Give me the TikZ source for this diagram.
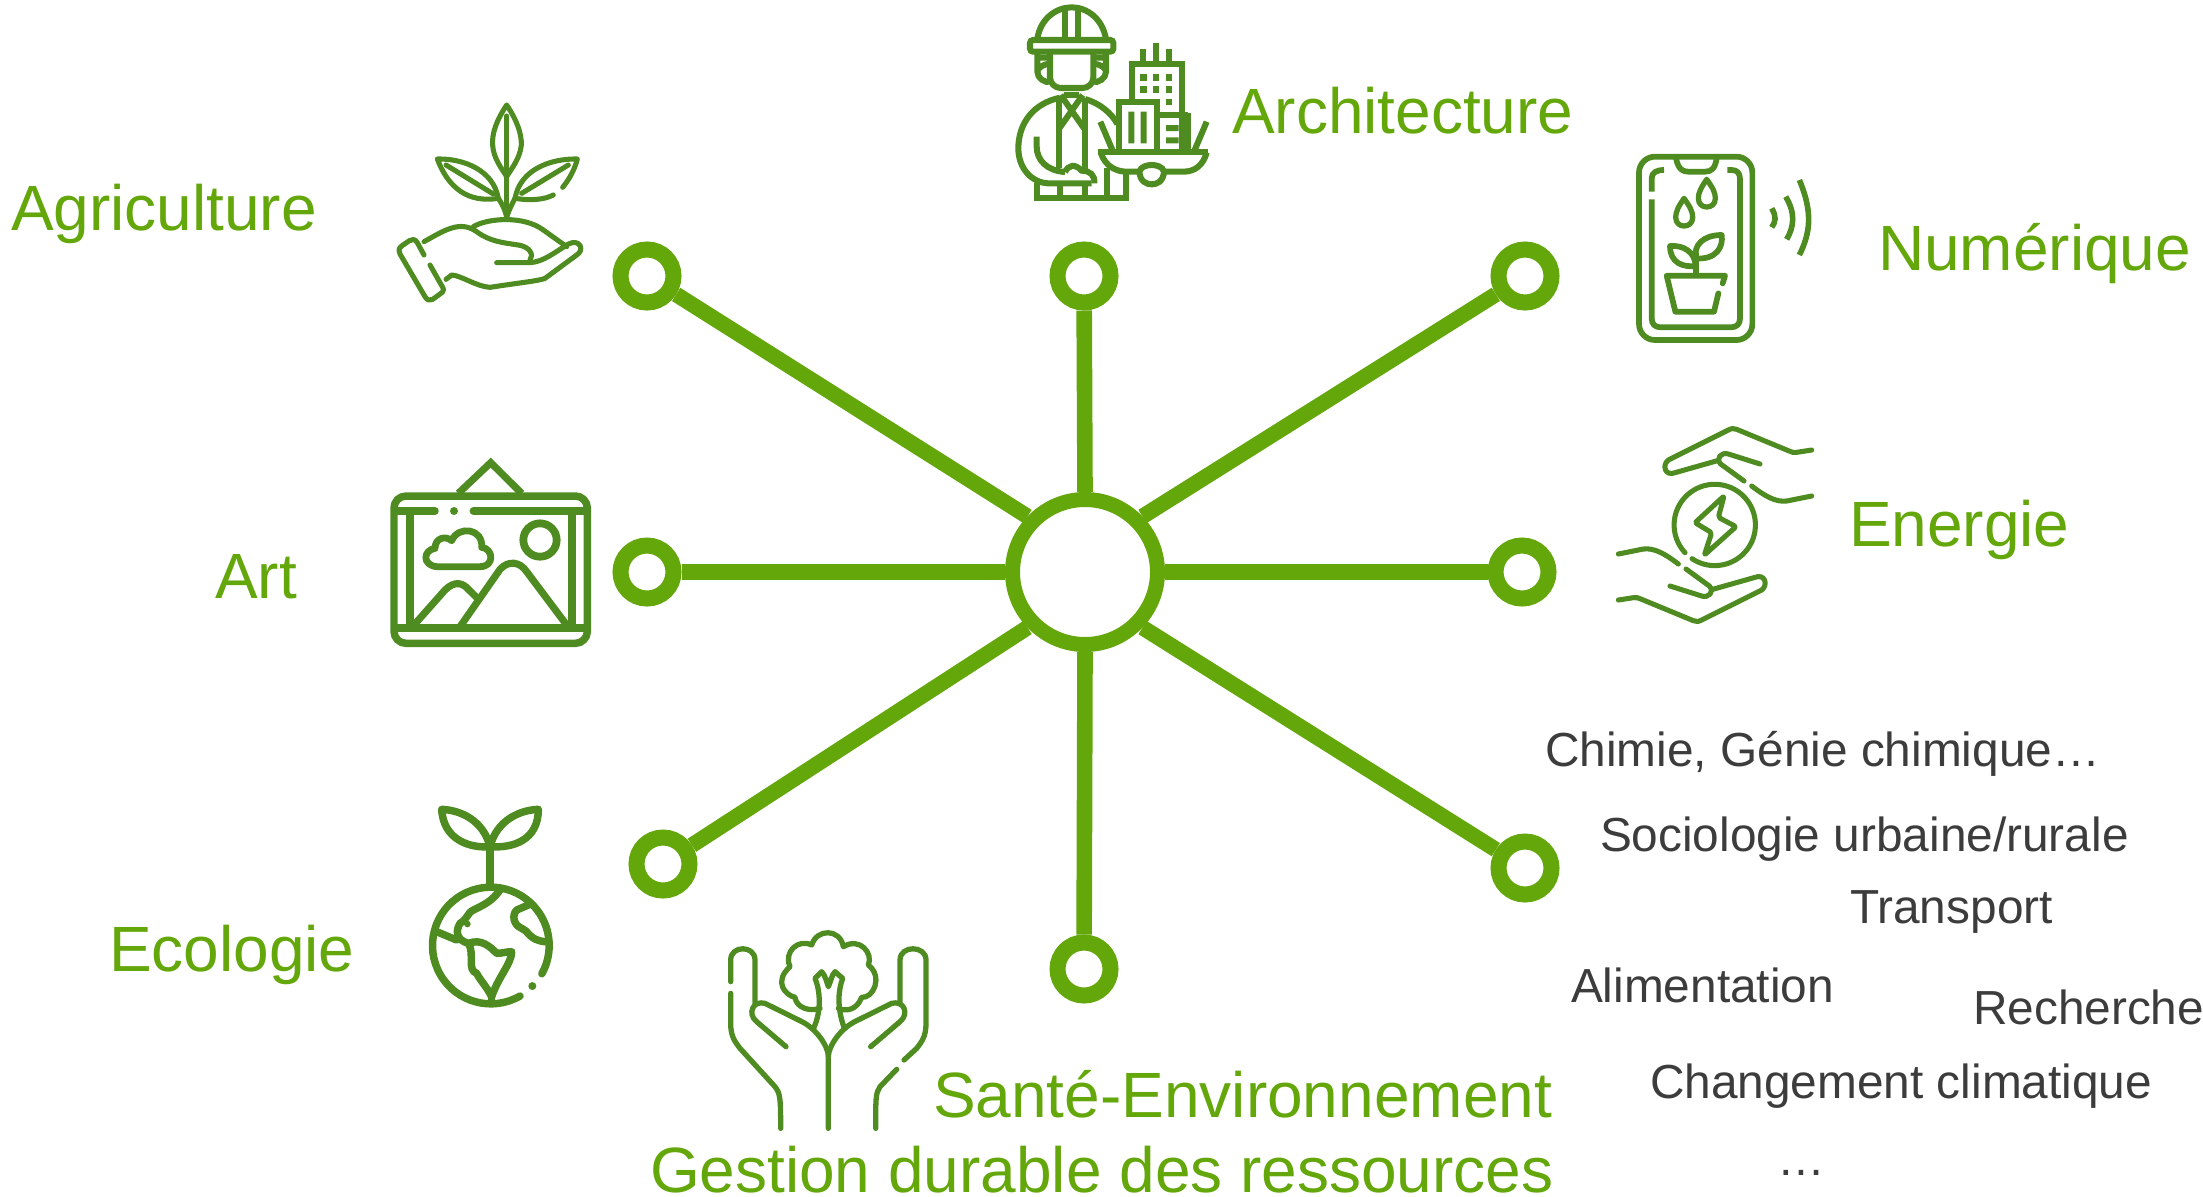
\documentclass[tikz,border=0pt]{standalone}
\usepackage{fontspec}
\setmainfont{Liberation Sans}
\definecolor{linegreen}{HTML}{64A70B}
\definecolor{icongreen}{HTML}{4E8C21}
\definecolor{darktext}{HTML}{3C3C3C}
\tikzset{
  zm/.style={x=0.166667pt,y=-0.166667pt},
  ic/.style={draw=icongreen,line width=#1*1.1,line cap=round,line join=round,fill=none},
  ic/.default=2.4pt,
  icb/.style={draw=icongreen,line width=#1*1.08,line cap=butt,line join=miter,fill=none},
  icb/.default=2.8pt,
  dotf/.style={fill=icongreen,draw=none},
  satnode/.style={circle,draw=linegreen,line width=8pt,minimum size=26.5pt,inner sep=0pt,fill=white},
  hubnode/.style={circle,draw=linegreen,line width=7.5pt,minimum size=72.5pt,inner sep=0pt,fill=white},
  link/.style={draw=linegreen,line width=7.8pt},
  lab/.style={anchor=base west,inner sep=0pt,outer sep=0pt,text=linegreen,font=\fontsize{32pt}{36pt}\selectfont},
  word/.style={anchor=base west,inner sep=0pt,outer sep=0pt,text=darktext,font=\fontsize{23.9pt}{28pt}\selectfont},
}
\begin{document}
\begin{tikzpicture}[x=0.5pt,y=-0.5pt]
\useasboundingbox (0,0) rectangle (2203,1196);

% hub and spokes
\node[hubnode] (hub) at (1085,572) {};
\node[satnode] (s1) at (647,276) {};
\node[satnode] (s2) at (1084,276) {};
\node[satnode] (s3) at (1525,276) {};
\node[satnode] (s4) at (647,572) {};
\node[satnode] (s5) at (1522,572) {};
\node[satnode] (s6) at (663,864) {};
\node[satnode] (s7) at (1084,969) {};
\node[satnode] (s8) at (1525,868) {};
\draw[link] (hub.136) -- (s1);
\draw[link] (hub.90) -- (s2);
\draw[link] (hub.44) -- (s3);
\draw[link] (hub) -- (s4);
\draw[link] (hub) -- (s5);
\draw[link] (hub.224) -- (s6);
\draw[link] (hub.270) -- (s7);
\draw[link] (hub.316) -- (s8);

% green labels
\node[lab] (lAgri) at (11,230) {Agriculture};
\node[lab] (lArch) at (1232,133) {Architecture};
\node[lab] (lNum) at (1878,270) {Numérique};
\node[lab] (lEne) at (1849,546) {Energie};
\node[lab] (lArt) at (215,598) {Art};
\node[lab] (lEco) at (109,971) {Ecologie};
\node[lab] (lSan) at (933,1117) {Santé-Environnement};
\node[lab] (lGes) at (650,1192) {Gestion durable des ressources};

% dark words
\node[word] (w1) at (1545,766) {Chimie, Génie chimique…};
\node[word] (w2) at (1600,851) {Sociologie urbaine/rurale};
\node[word] (w3) at (1850,923) {Transport};
\node[word] (w4) at (1571,1002) {Alimentation};
\node[word] (w5) at (1973,1024) {Recherche};
\node[word] (w6) at (1650,1098) {Changement climatique};
\node[word] (w7) at (1777,1175) {…};

% architect
\begin{scope}[shift={(980,0)},zm]
\path[icb] (172,118) .. controls (180,55) and (230,22) .. (275,22) .. controls (320,22) and (368,55) .. (378,118);
\draw[icb,rounded corners=1.5pt] (150,120) rectangle (400,155);
\path[icb] (255,28) -- (255,120) (295,28) -- (295,120);
\path[icb] (210,155) -- (210,232) .. controls (210,250) and (225,264) .. (242,264) -- (308,264) .. controls (325,264) and (340,250) .. (340,232) -- (340,155);
\path[icb] (172,155) -- (172,215) .. controls (172,235) and (195,250) .. (212,245) (172,173) -- (210,173) (212,192) .. controls (190,190) and (172,205) .. (172,215);
\path[icb] (378,155) -- (378,215) .. controls (378,235) and (355,250) .. (338,245) (378,173) -- (340,173) (338,192) .. controls (360,190) and (378,205) .. (378,215);
\path[icb] (240,293) .. controls (160,310) and (115,370) .. (115,445) .. controls (115,505) and (155,548) .. (205,550) -- (335,550);
\path[icb] (170,410) -- (170,440) .. controls (170,480) and (200,512) .. (255,516);
\path[icb] (237,295) -- (237,505) (315,295) -- (315,512);
\path[icb] (242,285) -- (312,385) (308,285) -- (238,385);
\path[icb] (252,285) -- (298,285);
\path[icb] (255,516) .. controls (265,495) and (285,490) .. (305,512) .. controls (330,512) and (345,525) .. (343,550);
\path[icb] (170,550) -- (170,595) -- (437,595) -- (437,515);
\path[icb] (240,550) -- (240,595) (315,550) -- (315,595) (380,505) -- (380,595);
\path[icb] (315,297) .. controls (360,310) and (395,340) .. (412,372);
\path[icb] (490,147) -- (490,190) (528,130) -- (528,190) (567,147) -- (567,190);
\path[icb] (455,305) -- (455,192) -- (605,192) -- (605,345);
\foreach \wx/\wy in {490/232,528/232,567/232,490/268,528/268,567/268,567/306}
  \fill[dotf] (\wx-10,\wy-10) rectangle (\wx+10,\wy+10);
\path[icb] (417,450) -- (417,307) -- (532,307) -- (532,450);
\fill[dotf] (445,335) rectangle (463,430) (482,335) rectangle (500,430);
\path[icb] (532,345) -- (625,345) (625,338) -- (625,450) (605,345) -- (605,450);
\fill[dotf] (558,375) rectangle (596,393) (558,412) rectangle (596,430);
\path[icb] (355,457) -- (685,457);
\path[icb] (362,457) .. controls (375,500) and (410,515) .. (440,515) -- (478,515) (552,515) -- (610,515) .. controls (645,515) and (670,495) .. (680,457);
\path[icb] (478,515) .. controls (480,545) and (500,553) .. (515,553) .. controls (530,553) and (550,545) .. (552,515) .. controls (548,500) and (530,495) .. (515,495) .. controls (500,495) and (482,500) .. (478,515);
\path[icb] (361,365) -- (397,450) (680,365) -- (644,450);
\end{scope}

% plant in hand
\begin{scope}[shift={(380,90)},zm]
\path[ic=2.3pt] (380,45) .. controls (350,90) and (335,130) .. (338,165) .. controls (340,205) and (365,235) .. (380,260) .. controls (395,235) and (420,205) .. (424,165) .. controls (425,130) and (410,90) .. (380,45) -- cycle;
\path[ic=2.3pt] (380,78) -- (380,380);
\path[ic=2.3pt] (172,207) .. controls (250,205) and (340,240) .. (355,325) .. controls (290,335) and (215,320) .. (172,207) -- cycle;
\path[ic=2.3pt] (198,225) -- (340,312);
\path[ic=2.3pt] (355,325) .. controls (372,350) and (378,370) .. (380,382) .. controls (385,365) and (392,350) .. (405,325);
\path[ic=2.3pt] (548,292) .. controls (570,265) and (585,235) .. (592,207) .. controls (510,205) and (420,240) .. (405,325) .. controls (450,332) and (490,330) .. (520,315);
\path[ic=2.3pt] (565,225) -- (425,310);
\path[ic=2.3pt] (280,410) .. controls (320,385) and (430,375) .. (490,420) -- (560,470);
\path[ic=2.3pt] (132,495) -- (112,458) .. controls (105,445) and (95,448) .. (88,452) -- (65,468) .. controls (55,475) and (55,485) .. (60,492) -- (135,620) .. controls (142,632) and (150,632) .. (158,628) -- (180,612) .. controls (192,605) and (192,598) .. (187,590) -- (150,525);
\path[ic=2.3pt] (132,455) .. controls (195,420) and (240,390) .. (290,425) .. controls (330,455) and (370,458) .. (415,465) .. controls (450,470) and (462,495) .. (450,510);
\path[ic=2.3pt] (350,518) -- (450,518) .. controls (490,515) and (520,490) .. (565,462) .. controls (600,445) and (615,480) .. (590,495) -- (495,565) .. controls (480,572) and (420,578) .. (330,592) .. controls (290,590) and (240,555) .. (215,555) -- (198,568);
\end{scope}

% phone
\begin{scope}[shift={(1610,140)},zm]
\draw[ic=2.6pt,rounded corners=8pt] (87,50) rectangle (427,600);
\path[ic=2.6pt] (198,55) .. controls (205,90) and (220,95) .. (235,95) -- (285,95) .. controls (305,95) and (315,85) .. (320,55);
\path[ic=2.6pt,line cap=butt] (125,155) -- (125,115) .. controls (125,97) and (140,90) .. (162,90);
\path[ic=2.6pt,line cap=butt] (352,90) -- (365,90) .. controls (382,90) and (390,100) .. (390,118) -- (390,535) .. controls (390,552) and (380,562) .. (362,562) -- (152,562) .. controls (135,562) and (125,552) .. (125,535) -- (125,178);
\path[ic=2.4pt] (222,175) .. controls (205,200) and (197,215) .. (197,232) .. controls (197,250) and (210,258) .. (222,258) .. controls (235,258) and (248,250) .. (248,232) .. controls (248,215) and (240,200) .. (222,175) -- cycle;
\path[ic=2.4pt] (290,118) .. controls (273,143) and (265,158) .. (265,175) .. controls (265,193) and (278,201) .. (290,201) .. controls (303,201) and (316,193) .. (316,175) .. controls (316,158) and (308,143) .. (290,118) -- cycle;
\path[ic=2.6pt] (257,340) -- (257,405);
\path[ic=2.6pt] (180,318) .. controls (180,370) and (220,382) .. (257,378) .. controls (255,335) and (220,315) .. (180,318) -- cycle;
\path[ic=2.6pt] (335,285) .. controls (280,285) and (250,315) .. (257,355) .. controls (320,360) and (340,320) .. (335,285) -- cycle;
\path[ic=2.6pt] (338,430) -- (345,407) -- (170,407) -- (196,515) -- (312,515) -- (325,460);
\path[icb=2.6pt] (485,205) .. controls (500,230) and (497,245) .. (485,262);
\path[icb=2.6pt] (527,170) .. controls (557,220) and (552,260) .. (530,298);
\path[icb=2.6pt] (568,120) .. controls (610,220) and (600,280) .. (568,345);
\end{scope}

% energy
\begin{scope}[shift={(1600,410)},zm]
\foreach \turn in {0,180}{
\begin{scope}[rotate around={\turn:(345,345)}]
\path[ic=2.3pt] (635,120) -- (590,127) .. controls (580,128) and (575,127) .. (565,122) -- (410,58) .. controls (400,54) and (395,55) .. (385,60) -- (205,150) .. controls (185,165) and (195,200) .. (225,188) -- (352,152);
\path[ic=2.3pt] (480,162) -- (385,132) .. controls (365,125) and (345,145) .. (362,162) -- (432,213);
\path[ic=2.3pt] (455,228) .. controls (510,270) and (540,280) .. (575,270) -- (635,258);
\end{scope}}
\path[ic=2.3pt] (255,428) arc[start angle=137,end angle=484,radius=122];
\path[ic=2.3pt,rounded corners=1pt] (372,258) -- (285,338) -- (335,368) -- (313,435) -- (408,350) -- (355,322) -- cycle;
\end{scope}

% picture frame
\begin{scope}[shift={(380,450)},zm]
\draw[ic=3.4pt,rounded corners=6pt] (42,138) rectangle (622,580);
\path[ic=3.4pt] (45,183) -- (165,183) (280,183) -- (620,183);
\fill[dotf] (222,183) circle[radius=12];
\path[icb=3.6pt] (42,533) -- (622,533);
\path[icb=3.6pt] (90,183) -- (90,533) (575,183) -- (575,533);
\path[icb=3.3pt] (235,130) -- (332,38) -- (425,130);
\draw[icb=3.6pt] (480,270) circle[radius=50];
\path[ic=3.1pt] (170,350) .. controls (125,345) and (130,300) .. (165,295) .. controls (165,265) and (195,255) .. (215,272) .. controls (235,225) and (310,235) .. (305,292) .. controls (340,295) and (345,350) .. (300,350) -- cycle;
\path[icb=3.3pt] (102,525) -- (195,420) .. controls (225,390) and (250,400) .. (265,418) -- (300,452);
\path[icb=3.3pt] (240,530) -- (360,358) .. controls (385,330) and (420,335) .. (440,365) -- (560,525);
\end{scope}

% globe
\begin{scope}[shift={(410,790)},zm]
\path[ic=3.4pt,line cap=butt] (95,58) .. controls (150,60) and (220,90) .. (240,170) .. controls (180,175) and (100,150) .. (95,58) -- cycle;
\path[ic=3.4pt,line cap=butt] (385,58) .. controls (330,60) and (260,90) .. (240,170) .. controls (310,175) and (385,150) .. (385,58) -- cycle;
\path[ic=3.4pt] (240,170) -- (240,285);
\path[ic=3.4pt] (330,618) arc[start angle=60,end angle=389,radius=175];
\fill[dotf] (367,588) circle[radius=12];
\fill[dotf] (172,402) circle[radius=10];
\path[ic=3.4pt] (270,300) .. controls (245,335) and (220,345) .. (190,360) .. controls (170,370) and (175,385) .. (150,400) .. controls (135,425) and (140,450) .. (175,460) .. controls (215,445) and (240,470) .. (260,490) .. controls (275,490) and (290,485) .. (305,485) .. controls (305,520) and (265,560) .. (245,620) .. controls (230,590) and (210,570) .. (200,550) .. controls (170,540) and (195,490) .. (175,460);
\path[ic=3.4pt] (80,425) -- (140,450);
\path[ic=3.4pt] (355,345) -- (320,360) .. controls (305,375) and (310,405) .. (335,415) .. controls (355,420) and (355,450) .. (405,455);
\path[ic=3.4pt] (245,620) -- (245,640);
\end{scope}

% tree in hands
\begin{scope}[shift={(710,910)},zm]
\path[ic=2.4pt] (62,215) -- (62,150) .. controls (62,105) and (135,105) .. (135,150) -- (135,280);
\path[ic=2.4pt] (62,250) -- (62,340) .. controls (62,380) and (75,395) .. (90,415) -- (195,530) .. controls (210,550) and (212,560) .. (212,655);
\path[ic=2.4pt] (228,410) -- (140,335) .. controls (110,310) and (130,270) .. (165,280) -- (270,332) .. controls (320,355) and (355,410) .. (355,440) -- (355,655);
\path[ic=2.4pt] (570,280) -- (570,150) .. controls (570,105) and (648,105) .. (648,150) -- (648,340) .. controls (648,380) and (635,395) .. (620,415) -- (582,450);
\path[ic=2.4pt] (560,478) -- (510,530) .. controls (497,550) and (497,560) .. (497,655);
\path[ic=2.4pt] (482,410) -- (570,335) .. controls (600,310) and (580,270) .. (545,280) -- (440,332) .. controls (390,355) and (355,410) .. (355,440);
\path[ic=2.4pt] (312,352) .. controls (335,300) and (330,240) .. (315,205) -- (335,185) .. controls (345,195) and (350,215) .. (355,230) .. controls (362,215) and (365,195) .. (375,185) -- (398,205) .. controls (385,240) and (380,290) .. (402,352);
\path[ic=2.4pt] (330,295) .. controls (300,305) and (260,295) .. (255,262) .. controls (225,255) and (190,215) .. (240,170) .. controls (220,125) and (265,85) .. (305,105) .. controls (320,55) and (390,55) .. (400,110) .. controls (450,80) and (490,130) .. (475,165) .. controls (520,200) and (490,265) .. (455,262) .. controls (440,300) and (410,305) .. (385,295);
\end{scope}
\end{tikzpicture}
\end{document}
